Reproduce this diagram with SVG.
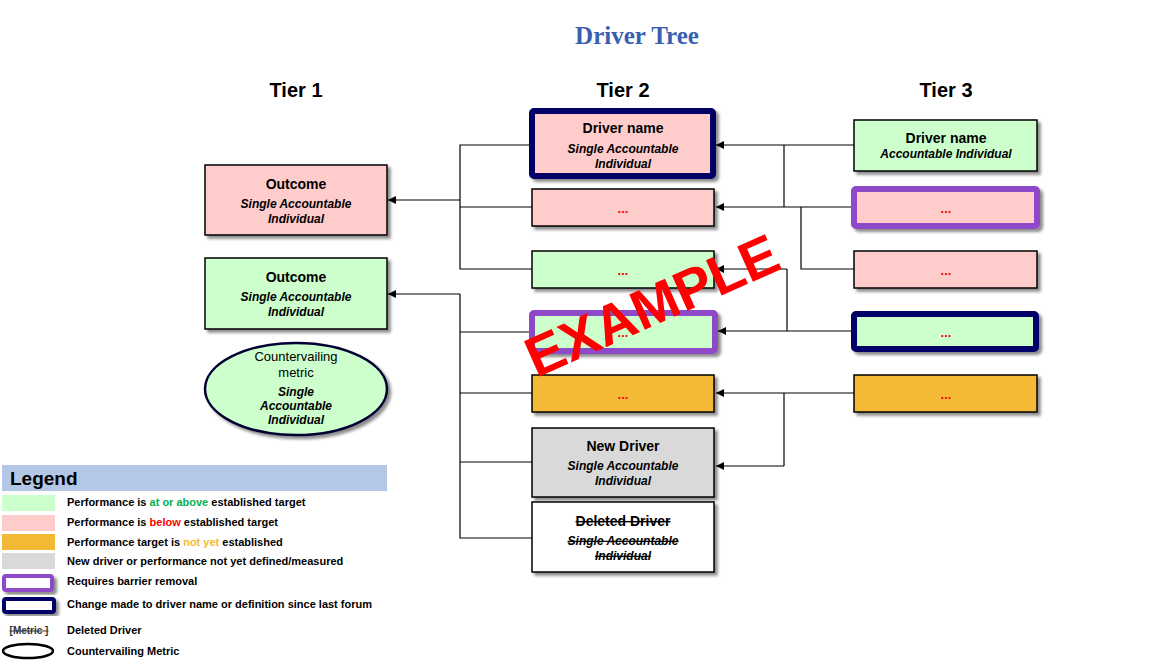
<svg xmlns="http://www.w3.org/2000/svg" width="1174" height="663" viewBox="0 0 1174 663">
<defs>
<filter id="sh" x="-10%" y="-10%" width="130%" height="140%"><feDropShadow dx="3" dy="3" stdDeviation="1.5" flood-color="#000" flood-opacity="0.45"/></filter>
<marker id="ar" markerWidth="8" markerHeight="8" refX="8" refY="4" orient="auto" markerUnits="userSpaceOnUse"><path d="M0,0 L8,4 L0,8 z" fill="#000"/></marker>
</defs>
<style>
text{font-family:"Liberation Sans",Arial,sans-serif}
.b{stroke:#000;stroke-width:1.5;filter:url(#sh)}
.g{fill:#ccffcc}.p{fill:#ffcccc}.o{fill:#f4b934}.gr{fill:#d9d9d9}.w{fill:#fff}
.nv{stroke:#000066;stroke-width:6}.pu{stroke:#8e4ac8;stroke-width:6}
.t{font-size:14px;font-weight:bold;text-anchor:middle}
.s{font-size:12px;font-weight:bold;font-style:italic;text-anchor:middle}
.d{font-size:13px;font-weight:bold;fill:#ff0000;text-anchor:middle}
.tier{font-size:20px;font-weight:bold;text-anchor:middle}
.l{font-size:11px;font-weight:bold}
.c path{fill:none;stroke:#000;stroke-width:1.2}
</style>
<rect width="1174" height="663" fill="#fff"/>
<text x="637" y="44" text-anchor="middle" font-family="Liberation Serif,serif" style="font-family:'Liberation Serif',serif" font-size="25" font-weight="bold" fill="#3a5fb0">Driver Tree</text>
<text class="tier" x="296" y="97">Tier 1</text>
<text class="tier" x="623" y="97">Tier 2</text>
<text class="tier" x="946" y="97">Tier 3</text>

<g class="c">
<path d="M532,145 H460 V269 H532 M460,207 H532"/>
<path d="M460,200 H388" marker-end="url(#ar)"/>
<path d="M460,294 H388" marker-end="url(#ar)"/>
<path d="M460,294 V538 H532 M460,332 H529 M460,393 H532 M460,462 H532"/>
<path d="M854,145 H716" marker-end="url(#ar)"/>
<path d="M784,145 V207"/>
<path d="M851,207 H716" marker-end="url(#ar)"/>
<path d="M801,207 V269 H854"/>
<path d="M787,269 H716" marker-end="url(#ar)"/>
<path d="M787,269 V331"/>
<path d="M851,331 H718" marker-end="url(#ar)"/>
<path d="M854,393 H716" marker-end="url(#ar)"/>
<path d="M784,393 V466"/>
<path d="M784,466 H716" marker-end="url(#ar)"/>
</g>

<g id="t1a"><rect class="b p" x="205" y="165" width="182" height="70"/><text class="t" x="296" y="189">Outcome</text><text class="s" x="296" y="208">Single Accountable</text><text class="s" x="296" y="223">Individual</text></g>
<g id="t1b"><rect class="b g" x="205" y="258" width="182" height="71"/><text class="t" x="296" y="282">Outcome</text><text class="s" x="296" y="301">Single Accountable</text><text class="s" x="296" y="316">Individual</text></g>
<g id="t1c"><ellipse cx="296" cy="389" rx="91" ry="46" fill="#ccffcc" stroke="#000033" stroke-width="2.5" filter="url(#sh)"/><text x="296" y="361" font-size="13" text-anchor="middle">Countervailing</text><text x="296" y="377" font-size="13" text-anchor="middle">metric</text><text class="s" x="296" y="396">Single</text><text class="s" x="296" y="410">Accountable</text><text class="s" x="296" y="424">Individual</text></g>

<g id="t2a"><rect class="b p nv" x="532" y="111" width="181" height="65" rx="2"/><text class="t" x="623" y="133">Driver name</text><text class="s" x="623" y="153">Single Accountable</text><text class="s" x="623" y="168">Individual</text></g>
<g id="t2b"><rect class="b p" x="532" y="189" width="182" height="37"/><text class="d" x="623" y="213">...</text></g>
<g id="t2c"><rect class="b g" x="532" y="251" width="182" height="37"/><text class="d" x="623" y="275">...</text></g>
<g id="t2d"><rect class="b g pu" x="532" y="313" width="183" height="38" rx="2"/><text class="d" x="623" y="337">...</text></g>
<g id="t2e"><rect class="b o" x="532" y="375" width="182" height="37"/><text class="d" x="623" y="399">...</text></g>
<g id="t2f"><rect class="b gr" x="532" y="428" width="182" height="69"/><text class="t" x="623" y="451">New Driver</text><text class="s" x="623" y="470">Single Accountable</text><text class="s" x="623" y="485">Individual</text></g>
<g id="t2g"><rect class="b w" x="532" y="502" width="182" height="70"/><text class="t" x="623" y="526" text-decoration="line-through">Deleted Driver</text><text class="s" x="623" y="545" text-decoration="line-through">Single Accountable</text><text class="s" x="623" y="560" text-decoration="line-through">Individual</text></g>

<g id="t3a"><rect class="b g" x="854" y="120" width="183" height="51"/><text class="t" x="946" y="143">Driver name</text><text class="s" x="946" y="158">Accountable Individual</text></g>
<g id="t3b"><rect class="b p pu" x="854" y="189" width="183" height="37" rx="2"/><text class="d" x="946" y="213">...</text></g>
<g id="t3c"><rect class="b p" x="854" y="251" width="183" height="37"/><text class="d" x="946" y="275">...</text></g>
<g id="t3d"><rect class="b g nv" x="854" y="314" width="182" height="35" rx="2"/><text class="d" x="946" y="337">...</text></g>
<g id="t3e"><rect class="b o" x="854" y="375" width="183" height="37"/><text class="d" x="946" y="399">...</text></g>

<text x="0" y="0" transform="translate(660,323) rotate(-24)" font-size="56" font-weight="bold" fill="#ff0000" text-anchor="middle">EXAMPLE</text>

<g id="legend">
<rect x="2" y="465" width="385" height="26" fill="#b4c7e7"/>
<text x="10" y="485" font-size="19" font-weight="bold">Legend</text>
<rect x="2" y="495" width="53" height="16" fill="#ccffcc"/>
<rect x="2" y="515" width="53" height="16" fill="#ffcccc"/>
<rect x="2" y="534" width="53" height="16" fill="#f4b934"/>
<rect x="2" y="553" width="53" height="16" fill="#d9d9d9"/>
<rect x="4" y="576" width="48" height="14" fill="#fff" stroke="#8e4ac8" stroke-width="4" rx="2" filter="url(#sh)"/>
<rect x="4" y="599" width="50" height="13" fill="#fff" stroke="#000066" stroke-width="4" rx="2" filter="url(#sh)"/>
<text class="l" x="67" y="506">Performance is <tspan fill="#00b050">at or above</tspan> established target</text>
<text class="l" x="67" y="526">Performance is <tspan fill="#ff0000">below</tspan> established target</text>
<text class="l" x="67" y="546">Performance target is <tspan fill="#f4b934">not yet</tspan> established</text>
<text class="l" x="67" y="565">New driver or performance not yet defined/measured</text>
<text class="l" x="67" y="585">Requires barrier removal</text>
<text class="l" x="67" y="608">Change made to driver name or definition since last forum</text>
<text x="29" y="634" font-size="10" font-weight="bold" fill="#333" text-anchor="middle" text-decoration="line-through">[Metric ]</text>
<text class="l" x="67" y="634">Deleted Driver</text>
<ellipse cx="28" cy="651" rx="25" ry="7" fill="#fff" stroke="#000" stroke-width="2.5"/>
<text class="l" x="67" y="655">Countervailing Metric</text>
</g>
</svg>
